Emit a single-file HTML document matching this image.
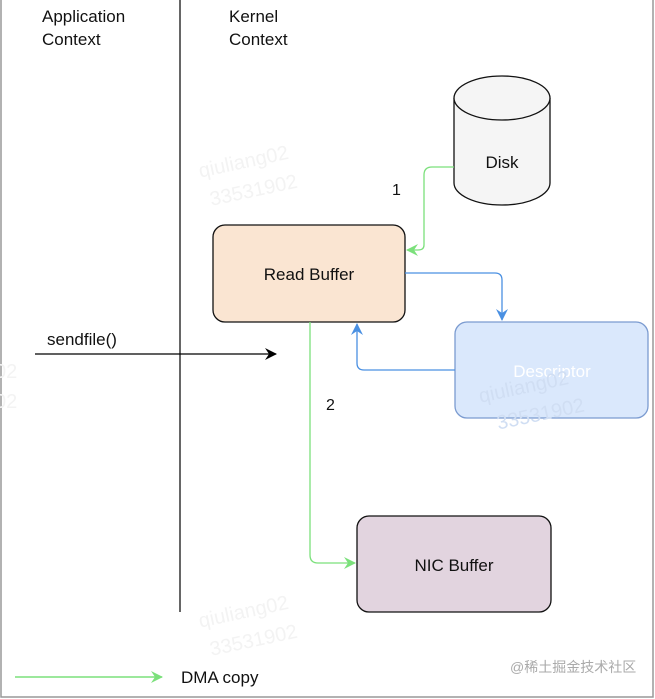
<!DOCTYPE html>
<html><head><meta charset="utf-8"><style>
html,body{margin:0;padding:0;background:#fff;}
svg{display:block;font-family:"Liberation Sans","Noto Sans CJK SC",sans-serif;}
</style></head><body>
<svg width="655" height="699" viewBox="0 0 655 699" xmlns="http://www.w3.org/2000/svg">
<defs>
<marker id="ag" markerWidth="14" markerHeight="14" refX="11" refY="7" orient="auto" markerUnits="userSpaceOnUse"><path d="M0,1 L12,7 L0,13 L4,7 Z" fill="#7be07b"/></marker>
<marker id="ab" markerWidth="14" markerHeight="14" refX="11" refY="7" orient="auto" markerUnits="userSpaceOnUse"><path d="M0,1 L12,7 L0,13 L4,7 Z" fill="#4a90e2"/></marker>
<marker id="ak" markerWidth="14" markerHeight="14" refX="11" refY="7" orient="auto" markerUnits="userSpaceOnUse"><path d="M0,1 L12,7 L0,13 L4,7 Z" fill="#000"/></marker>
</defs>
<rect x="1" y="-2" width="652" height="699" fill="none" stroke="#999" stroke-width="1.5"/>
<line x1="180" y1="0" x2="180" y2="612" stroke="#000" stroke-width="1.2"/>
<g font-size="17" fill="#111">
<text x="42" y="22">Application</text><text x="42" y="45">Context</text>
<text x="229" y="22">Kernel</text><text x="229" y="45">Context</text>
</g>
<g fill="#f3f3f3" font-size="20" transform="rotate(-12 260 170)"><text x="200" y="165">qiuliang02</text><text x="205" y="195">33531902</text></g>
<g fill="#f3f3f3" font-size="20" transform="rotate(-12 260 620)"><text x="200" y="615">qiuliang02</text><text x="205" y="645">33531902</text></g>
<g fill="#f3f3f3" font-size="20"><text x="-5" y="378">02</text><text x="-5" y="408">02</text></g>
<path d="M454,98 V183 A48,22 0 0 0 550,183 V98" fill="#f5f5f5" stroke="#111" stroke-width="1.3"/>
<ellipse cx="502" cy="98" rx="48" ry="22" fill="#f5f5f5" stroke="#111" stroke-width="1.3"/>
<text x="502" y="168" font-size="17" text-anchor="middle" fill="#111">Disk</text>
<rect x="213" y="225" width="192" height="97" rx="12" fill="#fae5d2" stroke="#111" stroke-width="1.3"/>
<text x="309" y="280" font-size="17" text-anchor="middle" fill="#111">Read Buffer</text>
<rect x="455" y="322" width="193" height="96" rx="12" fill="#dae8fc" stroke="#7b9bd0" stroke-width="1.3"/>
<text x="552" y="377" font-size="17" text-anchor="middle" fill="#fff">Descriptor</text>
<g fill="#d0def3" font-size="20" transform="rotate(-12 540 385)"><text x="478" y="390">qiuliang02</text><text x="490" y="420">33531902</text></g>
<rect x="357" y="516" width="194" height="96" rx="12" fill="#e2d4df" stroke="#111" stroke-width="1.3"/>
<text x="454" y="571" font-size="17" text-anchor="middle" fill="#111">NIC Buffer</text>
<path d="M454,167 H432 Q424,167 424,175 V245 Q424,250 418,250 H407" fill="none" stroke="#7be07b" stroke-width="1.3" marker-end="url(#ag)"/>
<path d="M405,273 H495 Q502,273 502,280 V320" fill="none" stroke="#4a90e2" stroke-width="1.3" marker-end="url(#ab)"/>
<path d="M455,370 H364 Q357,370 357,363 V324" fill="none" stroke="#4a90e2" stroke-width="1.3" marker-end="url(#ab)"/>
<path d="M310,322 V555 Q310,563 318,563 H355" fill="none" stroke="#7be07b" stroke-width="1.3" marker-end="url(#ag)"/>
<text x="392" y="195" font-size="16" fill="#111">1</text>
<text x="326" y="410" font-size="16" fill="#111">2</text>
<text x="47" y="345" font-size="17" fill="#111">sendfile()</text>
<path d="M35,354 H276" stroke="#000" stroke-width="1.3" marker-end="url(#ak)"/>
<path d="M15,677 H162" stroke="#7be07b" stroke-width="1.5" marker-end="url(#ag)"/>
<text x="181" y="683" font-size="17" fill="#111">DMA copy</text>
<text x="510" y="672" font-size="14" fill="#aaa">@稀土掘金技术社区</text>
</svg>
</body></html>
